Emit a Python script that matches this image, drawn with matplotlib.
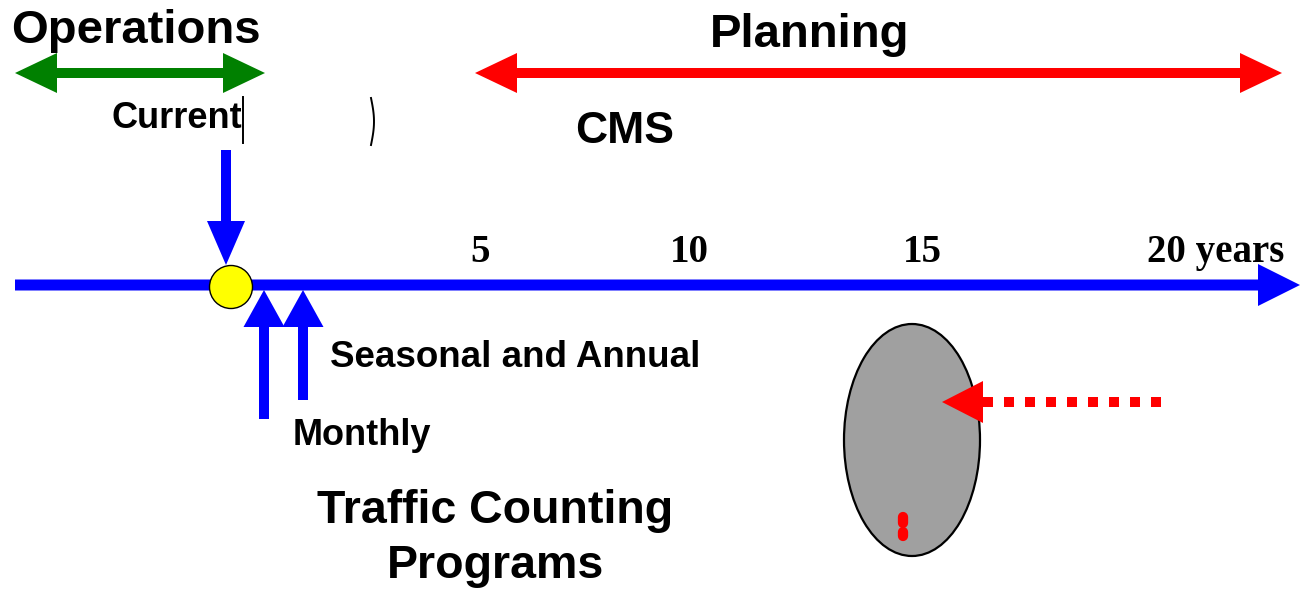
import numpy as np
import matplotlib
matplotlib.use('Agg')
import matplotlib.pyplot as plt
from matplotlib.patches import FancyArrow, Ellipse, Circle, Rectangle, Polygon

plt.rcParams['font.family'] = ['Liberation Sans', 'DejaVu Sans']

# time axis labels (years ahead)
tick_labels = ['5', '10', '15', '20 years']
tick_x = [480, 689, 922, 1216]

# count programmes pointing at the axis
count_names = ['Monthly', 'Seasonal and Annual']
count_x = [264, 303]
count_bottom = [419, 400]

BLUE = '#0000ff'
RED = '#ff0000'
GREEN = '#008000'

fig = plt.figure(figsize=(13.02, 5.9), dpi=100)
ax = fig.add_axes([0, 0, 1, 1])
ax.set_xlim(0, 1302)
ax.set_ylim(590, 0)
ax.axis('off')


def arrow(x0, y0, x1, y1, color, w=10, hw=41, hl=41):
    ax.add_patch(FancyArrow(x0, y0, x1 - x0, y1 - y0, width=w, head_width=hw,
                            head_length=hl, length_includes_head=True,
                            color=color, lw=0))


def double_arrow(x0, x1, y, color, w=10, hw=40, hl=42):
    pts = [(x0, y), (x0 + hl, y - hw / 2), (x0 + hl, y - w / 2),
           (x1 - hl, y - w / 2), (x1 - hl, y - hw / 2), (x1, y),
           (x1 - hl, y + hw / 2), (x1 - hl, y + w / 2),
           (x0 + hl, y + w / 2), (x0 + hl, y + hw / 2)]
    ax.add_patch(Polygon(pts, closed=True, facecolor=color, edgecolor='none'))


# horizons
double_arrow(15, 265, 73, GREEN)
double_arrow(475, 1282, 73, RED)
ax.text(136, 43, 'Operations', ha='center', va='baseline', fontsize=34, fontweight='bold')
ax.text(810, 47, 'Planning', ha='center', va='baseline', fontsize=34, fontweight='bold')

# odd blank box next to "Current"
ax.add_patch(Rectangle((243, 97), 130, 48, facecolor='white', edgecolor='none'))
ax.plot([243, 243], [97, 143], color='black', lw=1.4)
yy = np.linspace(98, 145, 20)
ax.plot(371 + 3 * np.sin((yy - 98) / 47 * np.pi), yy, color='black', lw=1.4)
ax.text(177, 128, 'Current', ha='center', va='baseline', fontsize=26, fontweight='bold')
ax.text(625, 143, 'CMS', ha='center', va='baseline', fontsize=32, fontweight='bold')

# main time axis
arrow(15, 285, 1300, 285, BLUE, w=11, hw=42, hl=42)
for lab, x in zip(tick_labels, tick_x):
    ax.text(x, 262, lab, ha='center', va='baseline', fontsize=28, fontweight='bold',
            family='Liberation Serif')

# "now" marker
arrow(226, 150, 226, 265, BLUE, w=10, hw=38, hl=44)
ax.add_patch(Circle((231, 287), 21.5, facecolor='#ffff00', edgecolor='black', lw=1, zorder=3))

for x, yb in zip(count_x, count_bottom):
    arrow(x, yb, x, 290, BLUE, w=10, hw=41, hl=37)
ax.text(362, 445, count_names[0], ha='center', va='baseline', fontsize=26, fontweight='bold')
ax.text(515, 367, count_names[1], ha='center', va='baseline', fontsize=26.5, fontweight='bold')

ax.text(495, 523, 'Traffic Counting', ha='center', va='baseline', fontsize=33.5, fontweight='bold')
ax.text(495, 578, 'Programs', ha='center', va='baseline', fontsize=33.5, fontweight='bold')

# grey bubble with dotted arrow
ax.add_patch(Ellipse((912, 440), 136, 232, facecolor='#a0a0a0', edgecolor='black', lw=1.6))
ax.plot([902.5, 902.5], [517, 522.5], color=RED, lw=7.4, solid_capstyle='round')
ax.plot([902.5, 902.5], [532, 536], color=RED, lw=7.4, solid_capstyle='round')
arrow(993, 402, 942, 402, RED, w=10, hw=42, hl=41)
ax.plot([983, 1162], [402, 402], color=RED, lw=7.2, linestyle=(0, (1, 1.1)),
        solid_capstyle='butt', dash_capstyle='butt')

fig.savefig('out.png', dpi=100)
